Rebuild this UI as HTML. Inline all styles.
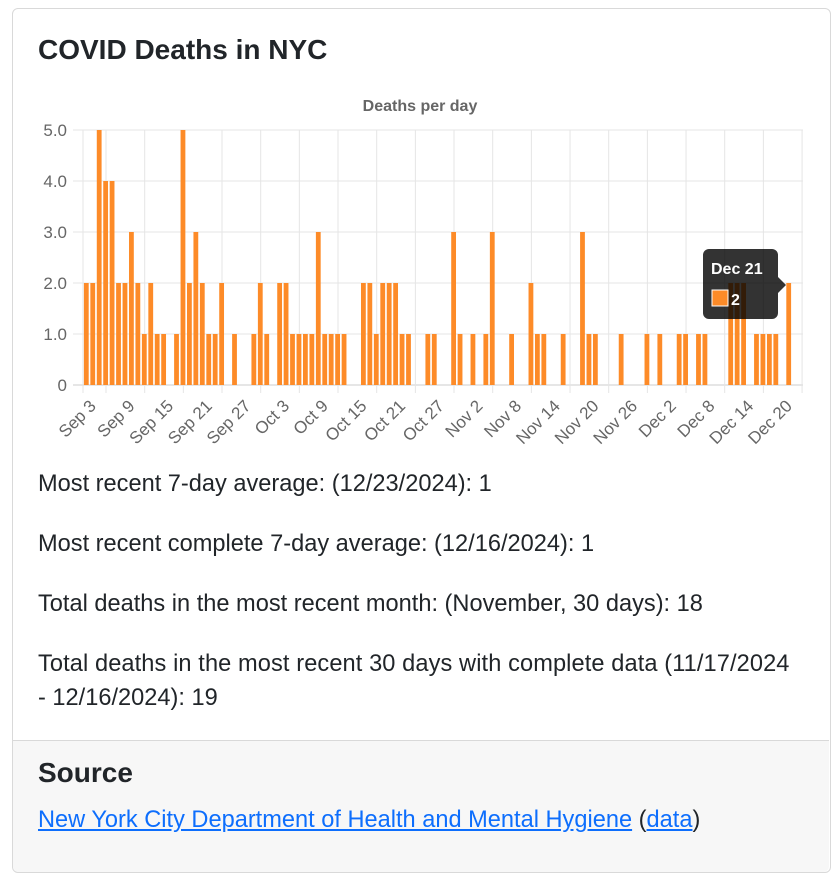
<!DOCTYPE html>
<html><head><meta charset="utf-8"><style>
body{margin:0;width:839px;height:873px;background:#fff;font-family:"Liberation Sans",sans-serif;color:#212529;overflow:hidden}
.card{position:absolute;left:12px;top:8px;width:817px;height:863px;border:1px solid #d9d9d9;border-radius:6px;overflow:hidden}
.t{position:absolute;left:38px;white-space:nowrap}
.b{font-size:23.6px}
.foot{position:absolute;left:13px;top:740px;width:816px;height:131px;background:#f7f7f7;border-top:1px solid #d9d9d9;border-radius:0 0 6px 6px}
a{color:#0d6efd;text-decoration:underline}
</style></head><body>
<div class="card"></div>
<div class="foot"></div>
<div class="t" style="top:34px;font-size:28px;font-weight:bold">COVID Deaths in NYC</div>
<svg style="position:absolute;left:0;top:0" width="839" height="470" id="c"></svg>
<div class="t b" style="top:471px">Most recent 7-day average: (12/23/2024): 1</div>
<div class="t b" style="top:531px">Most recent complete 7-day average: (12/16/2024): 1</div>
<div class="t b" style="top:591px">Total deaths in the most recent month: (November, 30 days): 18</div>
<div class="t b" style="top:651px;letter-spacing:0.1px">Total deaths in the most recent 30 days with complete data (11/17/2024</div>
<div class="t b" style="top:685px">- 12/16/2024): 19</div>
<div class="t" style="top:757px;font-size:28px;font-weight:bold">Source</div>
<div class="t b" style="top:807px"><a>New York City Department of Health and Mental Hygiene</a> (<a>data</a>)</div>
<script>
var v={0:2,1:2,2:5,3:4,4:4,5:2,6:2,7:3,8:2,9:1,10:2,11:1,12:1,14:1,15:5,16:2,17:3,18:2,19:1,20:1,21:2,23:1,26:1,27:2,28:1,30:2,31:2,32:1,33:1,34:1,35:1,36:3,37:1,38:1,39:1,40:1,43:2,44:2,45:1,46:2,47:2,48:2,49:1,50:1,53:1,54:1,57:3,58:1,60:1,62:1,63:3,66:1,69:2,70:1,71:1,74:1,77:3,78:1,79:1,83:1,87:1,89:1,92:1,93:1,95:1,96:1,100:2,101:2,102:2,104:1,105:1,106:1,107:1,109:2};
var s='';
s+='<text x="420" y="111" text-anchor="middle" font-size="16" font-weight="bold" fill="#666">Deaths per day</text>';
var labs=['0','1.0','2.0','3.0','4.0','5.0'];
for(var k=0;k<=5;k++){var y=385-51*k;s+='<line x1="73" x2="803" y1="'+y+'" y2="'+y+'" stroke="'+(k==0?'#ccc':'#e5e5e5')+'"/>';s+='<text x="67" y="'+(y+6)+'" text-anchor="end" font-size="17" fill="#666">'+labs[k]+'</text>';}
var xl=['Sep 3','Sep 9','Sep 15','Sep 21','Sep 27','Oct 3','Oct 9','Oct 15','Oct 21','Oct 27','Nov 2','Nov 8','Nov 14','Nov 20','Nov 26','Dec 2','Dec 8','Dec 14','Dec 20'];
s+='<line x1="83" x2="83" y1="130" y2="393" stroke="#e5e5e5"/>';
for(var k=0;k<19;k++){var x=106+38.67*k;s+='<line x1="'+x+'" x2="'+x+'" y1="130" y2="393" stroke="#e5e5e5"/>';s+='<text transform="translate('+(x-9)+',407) rotate(-45)" text-anchor="end" font-size="17" fill="#666">'+xl[k]+'</text>';}
for(var i in v){var x=86.3+6.444*i;var h=51*v[i];s+='<rect x="'+(x-2.4)+'" y="'+(385-h)+'" width="4.8" height="'+h+'" fill="#fd8b28"/>';}
s+='<rect x="703" y="249" width="75" height="70" rx="6" fill="rgba(0,0,0,0.8)"/><path d="M778 277 L786 285 L778 293Z" fill="rgba(0,0,0,0.8)"/>';
s+='<text x="711" y="274" font-size="16" font-weight="bold" fill="#fff">Dec 21</text>';
s+='<rect x="712" y="290" width="16" height="16" fill="#fd8b28" stroke="#fff" stroke-width="1"/><text x="731" y="305" font-size="16" font-weight="bold" fill="#fff">2</text>';
document.getElementById('c').innerHTML=s;
</script>
</body></html>
